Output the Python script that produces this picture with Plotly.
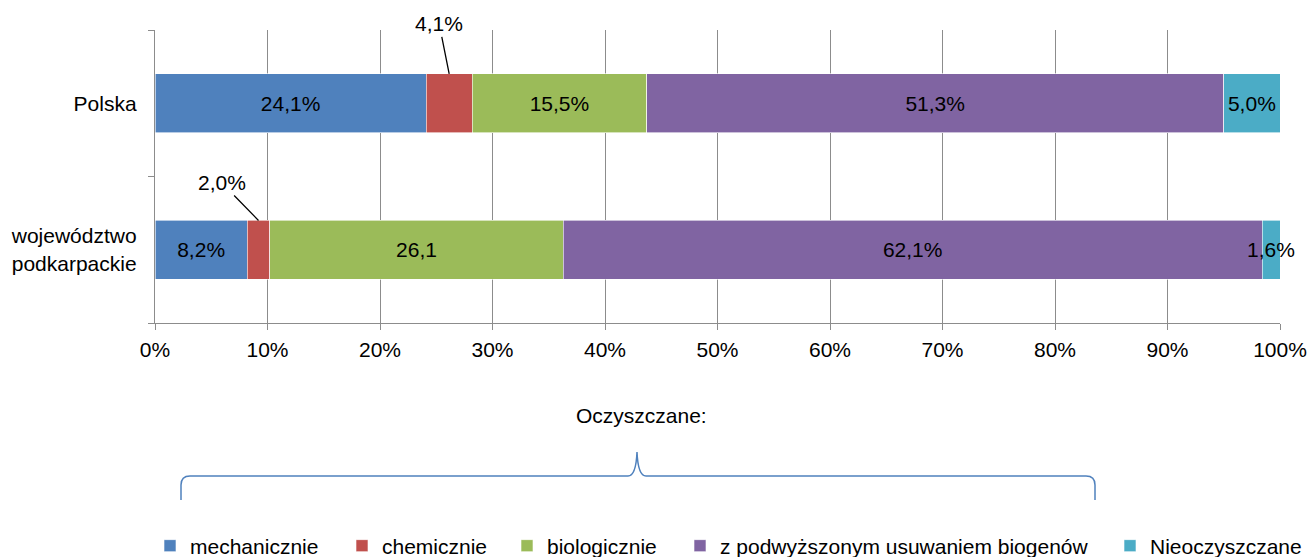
import plotly.graph_objects as go

categories = ["województwo<br>podkarpackie", "Polska"]
series_names = ["mechanicznie", "chemicznie", "biologicznie",
                "z podwyższonym usuwaniem biogenów", "Nieoczyszczane"]
mechanicznie = [8.2, 24.1]
chemicznie = [2.0, 4.1]
biologicznie = [26.1, 15.5]
podwyzszone = [62.1, 51.3]
nieoczyszczane = [1.6, 5.0]
labels_mech = ["8,2%", "24,1%"]
labels_chem = ["2,0%", "4,1%"]
labels_bio = ["26,1", "15,5%"]
labels_podw = ["62,1%", "51,3%"]
labels_nieo = ["1,6%", "5,0%"]
colors = ["#4F81BD", "#C0504D", "#9BBB59", "#8064A2", "#4BACC6"]
x_ticks = [0, 10, 20, 30, 40, 50, 60, 70, 80, 90, 100]
x_tick_labels = ["0%", "10%", "20%", "30%", "40%", "50%", "60%", "70%",
                 "80%", "90%", "100%"]

values = [mechanicznie, chemicznie, biologicznie, podwyzszone, nieoczyszczane]
labels = [labels_mech, labels_chem, labels_bio, labels_podw, labels_nieo]

FONT = "Liberation Sans, Arial, sans-serif"
FS = 21
W, H = 1309, 557
L, R, T, B = 155, 1280, 30, 323   # plot area in page pixels


def px(x):
    return (x - L) / (R - L)


def py(y):
    return (B - y) / (B - T)


fig = go.Figure()
legend_names = ["legend", "legend2", "legend3", "legend4", "legend5"]
for i, name in enumerate(series_names):
    fig.add_trace(go.Bar(
        y=categories, x=values[i], name=name, orientation="h",
        marker=dict(color=colors[i], line=dict(color="#ffffff", width=0.6)),
        text=labels[i] if i != 1 else None,
        textposition="inside" if i != 1 else "none",
        insidetextanchor="middle", textangle=0, cliponaxis=False,
        textfont=dict(color="#000000", size=FS, family=FONT),
        width=0.4, legend=legend_names[i],
        hoverinfo="skip",
    ))

# leader-line labels for the small "chemicznie" segments
offsets = [(-37, -38), (-10, -50)]
for j, cat in enumerate(categories):
    xc = mechanicznie[j] + chemicznie[j] / 2
    fig.add_annotation(
        x=xc, y=j + 0.2, xref="x", yref="y", text=labels_chem[j],
        showarrow=True, arrowhead=0, arrowwidth=1.3, arrowcolor="#000000",
        ax=offsets[j][0], ay=offsets[j][1],
        font=dict(size=FS, color="#000000", family=FONT),
    )

fig.add_annotation(
    x=px(641), y=py(415), xref="paper", yref="paper", text="Oczyszczane:",
    xanchor="center", yanchor="middle",
    showarrow=False, font=dict(size=FS, color="#000000", family=FONT),
)

brace = (f"M {px(181)},{py(500)} L {px(181)},{py(485)} "
         f"Q {px(181)},{py(476)} {px(190)},{py(476)} "
         f"L {px(628)},{py(476)} Q {px(636)},{py(476)} {px(637)},{py(452)} "
         f"Q {px(638)},{py(476)} {px(646)},{py(476)} "
         f"L {px(1086)},{py(476)} Q {px(1095)},{py(476)} {px(1095)},{py(485)} "
         f"L {px(1095)},{py(500)}")
fig.add_shape(type="path", path=brace, xref="paper", yref="paper",
              line=dict(color="#4F81BD", width=1.5))

legend_text_x = [190, 382, 547, 720, 1150]
legend_layout = {}
for i, lg in enumerate(legend_names):
    legend_layout[lg] = dict(
        orientation="h", x=px(legend_text_x[i] - 40), y=py(546),
        xanchor="left", yanchor="middle",
        font=dict(size=FS, family=FONT, color="#000000"),
        itemwidth=30, bgcolor="rgba(0,0,0,0)", borderwidth=0,
    )

fig.update_layout(
    barmode="stack",
    width=W, height=H,
    margin=dict(l=L, r=W - R, t=T, b=H - B, autoexpand=False),
    paper_bgcolor="#ffffff", plot_bgcolor="#ffffff",
    font=dict(family=FONT, size=FS, color="#000000"),
    uniformtext=dict(minsize=FS, mode="show"),
    showlegend=True,
    xaxis=dict(range=[0, 100], tickvals=x_ticks, ticktext=x_tick_labels,
               showgrid=True, gridcolor="#8c8c8c", gridwidth=1.3,
               showline=True, linecolor="#8c8c8c", linewidth=1.3,
               ticks="outside", ticklen=6, tickcolor="#8c8c8c", tickwidth=1.3,
               ticklabelstandoff=2, automargin=False,
               zeroline=False, tickfont=dict(size=FS), fixedrange=True),
    yaxis=dict(categoryorder="array", categoryarray=categories,
               range=[-0.5, 1.5],
               showline=True, linecolor="#8c8c8c", linewidth=1.3,
               ticks="outside", ticklen=6, tickcolor="#8c8c8c", tickwidth=1.3,
               tickson="boundaries", showgrid=False, automargin=False,
               ticklabelstandoff=13, tickfont=dict(size=FS), fixedrange=True),
    **legend_layout,
)

fig.write_html(
    "out.html",
    config={"displayModeBar": False},
    post_script="document.body.style.margin='0';"
                "document.body.style.overflow='hidden';",
)
